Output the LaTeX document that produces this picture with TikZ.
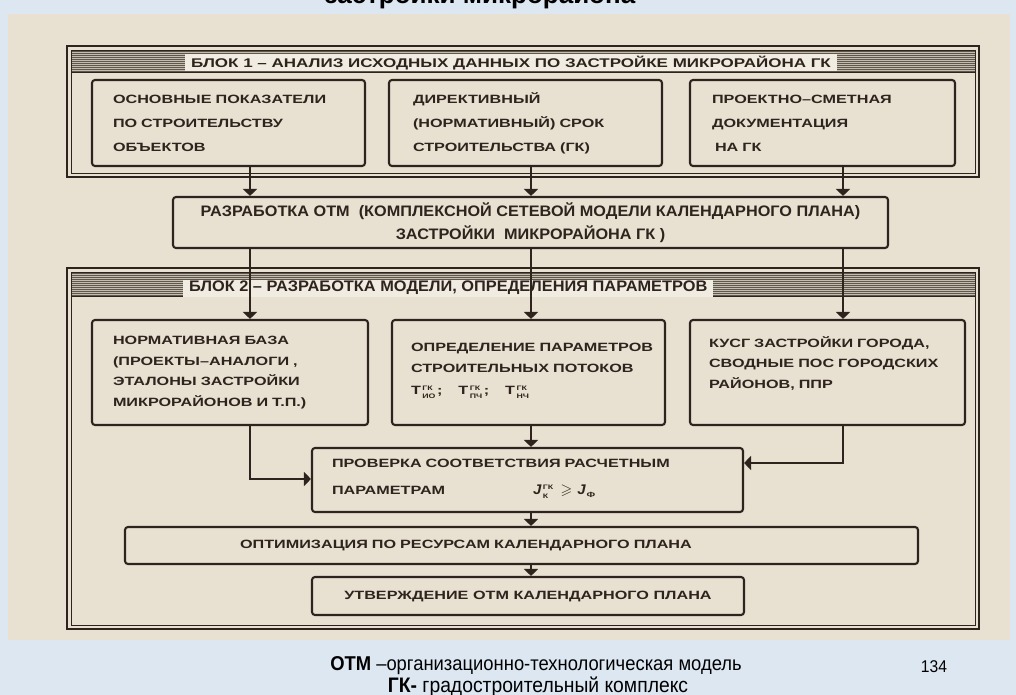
\documentclass[tikz,border=0pt]{standalone}
\usepackage{fontspec}
\usepackage{amssymb}
\setmainfont{Liberation Sans}
\newfontfamily\wfont{Liberation Sans}[FakeStretch=1.35]
\newfontfamily\mfont{Liberation Sans}[FakeStretch=1.07]
\newfontfamily\cfont{Liberation Sans}[FakeStretch=0.92]
\usetikzlibrary{arrows.meta}
\definecolor{ink}{HTML}{2E241D}
\definecolor{paper}{HTML}{E8E0D1}
\definecolor{lblbg}{HTML}{F1ECE2}
\definecolor{sky}{HTML}{DCE7F2}
\definecolor{stripebg}{HTML}{C4BCAE}
\definecolor{stripe}{HTML}{5F574C}
\newcommand\stk[2]{\kern1.5pt\raisebox{0.8pt}{\wfont\bfseries\fontsize{6.5}{8.5}\selectfont\begin{tabular}{@{}l@{}}#1\\#2\end{tabular}}\kern1.5pt}
\newcommand\Tgk[1]{Т\stk{ГК}{#1}}
\begin{document}
\begin{tikzpicture}[x=1pt,y=-1pt,
  box/.style={draw=ink,line width=2.1pt,rounded corners=3pt,inner ysep=0pt,text=ink},
  wtxt/.style={font=\wfont\bfseries\fontsize{12}{24}\selectfont},
  ntxt/.style={font=\mfont\bfseries\fontsize{15.2}{23}\selectfont},
  lbl/.style={fill=lblbg,inner ysep=0pt,inner xsep=6pt,minimum height=17pt,text=ink,anchor=west},
  arr/.style={draw=ink,line width=2.5pt,-{Triangle[length=7pt,width=14pt]}},
  frameo/.style={draw=ink,line width=1.8pt},
  framei/.style={draw=ink,line width=0.9pt},
  stripeline/.style={draw=stripe,line width=0.9pt}
]
\useasboundingbox (0,0) rectangle (1016,695);
\fill[sky] (0,0) rectangle (1016,695);
\fill[paper] (8,14) rectangle (1010,640);
% partially visible title
\node[anchor=base,font=\bfseries\fontsize{26}{26}\selectfont,text=black] (title) at (480,4) {застройки микрорайона};
\fill[sky] (0,-30) rectangle (1016,0);

% block 1 frame
\fill[stripebg] (71,50) rectangle (975,72);
\foreach \k in {0,...,10} \draw[stripeline] (71,51+2*\k) -- (975,51+2*\k);
\draw[frameo] (67,46) rectangle (979,177);
\draw[framei] (71,50) rectangle (975,173);
\draw[framei] (71,72) -- (975,72);
\node[lbl,font=\wfont\bfseries\fontsize{12.6}{13}\selectfont] (h1) at (185,63) {БЛОК 1 – АНАЛИЗ ИСХОДНЫХ ДАННЫХ ПО ЗАСТРОЙКЕ МИКРОРАЙОНА ГК};

% block 2 frame
\fill[stripebg] (71,272) rectangle (975,296);
\foreach \k in {0,...,11} \draw[stripeline] (71,273+2*\k) -- (975,273+2*\k);
\draw[frameo] (67,268) rectangle (979,629);
\draw[framei] (71,272) rectangle (975,625);
\draw[framei] (71,296) -- (975,296);
\node[lbl,font=\mfont\bfseries\fontsize{15.3}{16}\selectfont] (h2) at (183,288) {БЛОК 2 – РАЗРАБОТКА МОДЕЛИ, ОПРЕДЕЛЕНИЯ ПАРАМЕТРОВ};

% column coordinates
\coordinate (c1) at (250,0);
\coordinate (c2) at (531,0);
\coordinate (c3) at (843,0);
\coordinate (jl) at (250,479);
\coordinate (jr) at (843,463);

% block 1 boxes
\node[box,wtxt,minimum width=273pt,minimum height=86pt,text width=231pt,inner xsep=21pt,align=left] (a) at (228.5,123)
  {ОСНОВНЫЕ ПОКАЗАТЕЛИ\\ПО СТРОИТЕЛЬСТВУ\\ОБЪЕКТОВ};
\node[box,wtxt,minimum width=273pt,minimum height=86pt,text width=225pt,inner xsep=24pt,align=left] (b) at (525.5,123)
  {ДИРЕКТИВНЫЙ\\(НОРМАТИВНЫЙ) СРОК\\СТРОИТЕЛЬСТВА (ГК)};
\node[box,wtxt,minimum width=265pt,minimum height=86pt,text width=221pt,inner xsep=22pt,align=left] (c) at (822.5,123)
  {ПРОЕКТНО–СМЕТНАЯ\\ДОКУМЕНТАЦИЯ\\\hspace*{3pt}НА ГК};

% OTM box
\node[box,ntxt,minimum width=715pt,minimum height=51pt,align=center] (otm) at (530.5,222.5)
  {РАЗРАБОТКА ОТМ\ \ (КОМПЛЕКСНОЙ СЕТЕВОЙ МОДЕЛИ КАЛЕНДАРНОГО ПЛАНА)\\ЗАСТРОЙКИ\ \ МИКРОРАЙОНА ГК )};

% block 2 boxes
\node[box,font=\wfont\bfseries\fontsize{12}{20.5}\selectfont,minimum width=276pt,minimum height=105pt,text width=234pt,inner xsep=21pt,align=left] (d) at (230,372.5)
  {НОРМАТИВНАЯ БАЗА\\(ПРОЕКТЫ–АНАЛОГИ ,\\ЭТАЛОНЫ ЗАСТРОЙКИ\\МИКРОРАЙОНОВ И Т.П.)};
\node[box,font=\wfont\bfseries\fontsize{12}{20.5}\selectfont,minimum width=273pt,minimum height=105pt,text width=235pt,inner xsep=19pt,align=left] (e) at (528.5,372.5)
  {\mbox{ОПРЕДЕЛЕНИЕ ПАРАМЕТРОВ}\\\mbox{СТРОИТЕЛЬНЫХ ПОТОКОВ}\\[2pt]\mbox{\Tgk{ИО};\kern16pt\Tgk{ПЧ};\kern16pt\Tgk{НЧ}}\\[-14pt]\mbox{}};
\node[box,font=\wfont\bfseries\fontsize{12}{20.5}\selectfont,minimum width=275pt,minimum height=105pt,text width=237pt,inner xsep=19pt,align=left] (f) at (827.5,372.5)
  {КУСГ ЗАСТРОЙКИ ГОРОДА,\\СВОДНЫЕ ПОС ГОРОДСКИХ\\РАЙОНОВ, ППР\\\mbox{}};

% check box
\node[box,font=\wfont\bfseries\fontsize{12}{27}\selectfont,minimum width=431pt,minimum height=64pt,text width=391pt,inner xsep=20pt,align=left] (g) at (527.5,480)
  {ПРОВЕРКА СООТВЕТСТВИЯ РАСЧЕТНЫМ\\\makebox[201pt][l]{ПАРАМЕТРАМ}{\mfont\itshape\fontsize{14}{14}\selectfont J}\stk{ГК}{К}\hspace{6pt}{\fontsize{15}{15}\selectfont$\geqslant$}\hspace{5pt}{\mfont\itshape\fontsize{14}{14}\selectfont J}\kern1pt\raisebox{-3pt}{\fontsize{7.5}{7.5}\selectfont Ф}};

% optimisation box
\node[box,font=\wfont\bfseries\fontsize{12}{14}\selectfont,minimum width=793pt,minimum height=37pt,text width=563pt,inner xsep=115pt,align=left] (h) at (521.5,545.5)
  {ОПТИМИЗАЦИЯ ПО РЕСУРСАМ КАЛЕНДАРНОГО ПЛАНА};

% approval box
\node[box,font=\wfont\bfseries\fontsize{12}{14}\selectfont,minimum width=432pt,minimum height=38pt,align=center] (i) at (528,596)
  {УТВЕРЖДЕНИЕ ОТМ КАЛЕНДАРНОГО ПЛАНА};

% connectors
\draw[arr] (a.south -| c1) -- (otm.north -| c1);
\draw[arr] (b.south -| c2) -- (otm.north -| c2);
\draw[arr] (c.south -| c3) -- (otm.north -| c3);
\draw[arr] (otm.south -| c1) -- (d.north -| c1);
\draw[arr] (otm.south -| c2) -- (e.north -| c2);
\draw[arr] (otm.south -| c3) -- (f.north -| c3);
\draw[arr] (d.south -| jl) |- (g.west |- jl);
\draw[arr] (e.south -| c2) -- (g.north -| c2);
\draw[arr] (f.south -| jr) |- (g.east |- jr);
\draw[arr] (g.south -| c2) -- (h.north -| c2);
\draw[arr] (h.south -| c2) -- (i.north -| c2);

% footer
\node[anchor=base,font=\cfont\fontsize{20}{22}\selectfont,text=black] (fn1) at (536,670) {\textbf{ОТМ} –организационно-технологическая модель};
\node[anchor=base,font=\cfont\fontsize{21}{22}\selectfont,text=black] (fn2) at (538,692) {\textbf{ГК-} градостроительный комплекс};
\node[anchor=base,font=\cfont\fontsize{17}{20}\selectfont,text=black] (pg) at (934,672) {134};
\end{tikzpicture}
\end{document}
